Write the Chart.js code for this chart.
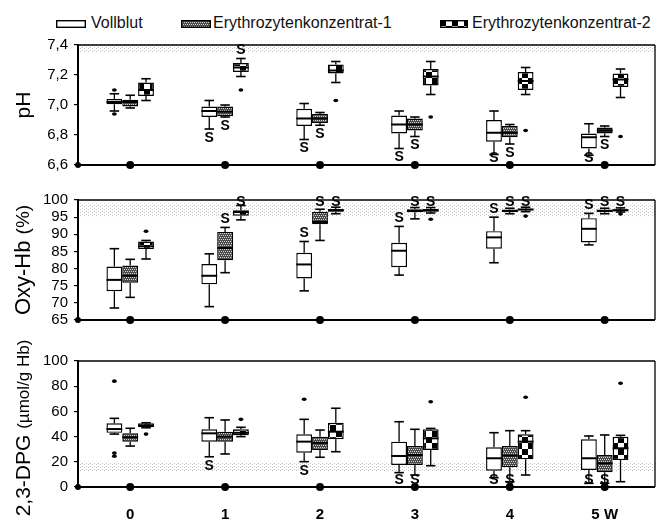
<!DOCTYPE html>
<html><head><meta charset="utf-8">
<script src="https://cdn.jsdelivr.net/npm/chart.js@4.4.0/dist/chart.umd.min.js"></script>
<style>
html,body{margin:0;padding:0;background:#fff;}
body{width:666px;height:523px;position:relative;overflow:hidden;font-family:"Liberation Sans",Arial,sans-serif;}
canvas.panel{position:absolute;left:0;}
.sw{position:absolute;}
.lt{position:absolute;font-size:16px;line-height:18px;color:#111;white-space:nowrap;}
</style></head>
<body>
<canvas class="sw" id="sw0" width="30" height="8" style="left:56px;top:20px"></canvas>
<span class="lt" id="lt0" style="left:91px;top:14px"></span>
<canvas class="sw" id="sw1" width="30" height="8" style="left:181px;top:20px"></canvas>
<span class="lt" id="lt1" style="left:213px;top:14px"></span>
<canvas class="sw" id="sw2" width="28" height="8" style="left:440px;top:20px"></canvas>
<span class="lt" id="lt2" style="left:472px;top:14px"></span>
<canvas class="panel" id="c1" width="666" height="150" style="top:30px"></canvas>
<canvas class="panel" id="c2" width="666" height="150" style="top:185px"></canvas>
<canvas class="panel" id="c3" width="666" height="188" style="top:335px"></canvas>
<script>
// ---------- data ----------
const categories = ['0','1','2','3','4','5 W'];
const seriesNames = ['Vollblut','Erythrozytenkonzentrat-1','Erythrozytenkonzentrat-2'];

// each entry: [min, q1, median, q3, max]
const phVollblut = [[6.96,7.005,7.02,7.04,7.075],[6.84,6.92,6.96,6.99,7.03],[6.77,6.86,6.91,6.975,7.01],[6.71,6.81,6.87,6.93,6.96],[6.67,6.755,6.815,6.90,6.96],[6.665,6.71,6.785,6.81,6.875]];
const phEk1 = [[6.98,6.99,7.02,7.035,7.065],[6.92,6.925,6.955,6.99,7.0],[6.865,6.88,6.91,6.94,6.95],[6.79,6.83,6.87,6.91,6.92],[6.74,6.785,6.815,6.86,6.87],[6.79,6.81,6.83,6.85,6.86]];
const phEk2 = [[7.03,7.06,7.10,7.15,7.175],[7.19,7.22,7.25,7.28,7.31],[7.15,7.21,7.23,7.27,7.29],[7.07,7.13,7.19,7.24,7.29],[7.07,7.10,7.16,7.22,7.25],[7.05,7.12,7.17,7.21,7.24]];
const phVollblutOut = [[0,7.10],[0,6.94]];
const phEk1Out = [];
const phEk2Out = [[1,7.10],[2,7.03],[3,6.92],[4,6.83],[5,6.79]];
const phVollblutSig = [0,-1,-1,-1,-1,-1];
const phEk1Sig = [0,-1,-1,-1,-1,-1];
const phEk2Sig = [0,1,0,0,0,0];
const phTicks = [6.6,6.8,7.0,7.2,7.4];
const phNormal = [7.35,7.45];

const oxyVollblut = [[68.5,73.4,76.7,80.6,85.8],[68.9,75.4,77.9,81.3,84.3],[73.5,77.1,81.2,84.6,87.9],[78.1,80.4,85.2,87.5,92.3],[81.7,85.8,89.1,90.9,95.0],[86.9,87.6,91.6,94.7,96.1]];
const oxyEk1 = [[71.6,75.9,77.9,80.9,82.7],[78.8,82.4,86.0,90.7,92.0],[88.2,92.9,93.6,96.6,97.3],[94.5,96.4,96.8,97.3,97.8],[96.0,96.5,96.8,97.2,97.6],[96.0,96.4,96.8,97.2,97.6]];
const oxyEk2 = [[82.8,85.7,86.5,87.9,88.2],[94.2,95.4,96.5,97.0,98.4],[96.0,96.6,97.0,97.4,97.9],[96.2,96.6,97.0,97.4,97.8],[96.6,97.0,97.2,97.5,97.9],[96.5,96.8,97.0,97.3,97.7]];
const oxyVollblutOut = [];
const oxyEk1Out = [];
const oxyEk2Out = [[0,90.9],[3,94.4],[4,95.3],[5,95.9]];
const oxyVollblutSig = [0,0,1,1,1,1];
const oxyEk1Sig = [0,1,1,1,1,1];
const oxyEk2Sig = [0,1,1,1,1,1];
const oxyTicks = [65,70,75,80,85,90,95,100];
const oxyNormal = [95,99];

const dpgVollblut = [[42,43,46,50.5,54.5],[24,36,42.6,45.8,55],[20.1,27.2,36,41.8,53.7],[11.4,17.5,24.6,36,51.8],[7.4,12.9,22.8,31.5,43.1],[2.9,13.5,22.8,37.9,40.5]];
const dpgEk1 = [[32.5,36,39.5,42.6,46.6],[26.2,36,39.9,43.9,53.2],[23.6,29.4,35,39.9,45.2],[9.5,17.5,25.4,32.5,45.8],[4.2,15.6,24.9,32.5,44.7],[3,11.7,18.8,25.4,41.3]];
const dpgEk2 = [[47,47.4,48.8,50.5,51],[40,41,43,45.8,47.4],[28,37.9,43.9,51,62.5],[16.9,29.4,38.6,45.8,46.5],[9.5,22,36,41.8,44.7],[4.2,21.4,30.7,39.9,41]];
const dpgVollblutOut = [[0,84],[0,27],[0,24.5],[2,69.6]];
const dpgEk1Out = [];
const dpgEk2Out = [[0,42],[1,53.7],[3,67.7],[4,71.2],[5,82.3]];
const dpgVollblutSig = [0,-1,-1,-1,-1,-1];
const dpgEk1Sig = [0,0,0,-1,-1,-1];
const dpgEk2Sig = [0,0,0,0,0,0];
const dpgTicks = [0,20,40,60,80,100];
const dpgNormal = [12,20];

// ---------- patterns ----------
function patternCanvas(kind){
  const c=document.createElement('canvas');
  const x=c.getContext('2d');
  if(kind==='ek1'){
    c.width=4;c.height=4;
    x.fillStyle='#4a4a4a';x.fillRect(0,0,4,4);
    x.fillStyle='#d8d8d8';x.fillRect(0,0,1,1);x.fillRect(2,0,1,1);x.fillRect(1,2,1,1);x.fillRect(3,2,1,1);
  } else if(kind==='ek2'){
    c.width=12;c.height=12;
    x.fillStyle='#fff';x.fillRect(0,0,12,12);
    x.fillStyle='#000';x.fillRect(0,0,6,6);x.fillRect(6,6,6,6);
  } else if(kind==='band'){
    c.width=4;c.height=3;
    x.fillStyle='rgba(150,150,150,0.55)';x.fillRect(0,0,1,1);x.fillRect(2,2,1,1);
  }
  return c;
}
function fills(ctx){
  return ['#ffffff', ctx.createPattern(patternCanvas('ek1'),'repeat'), ctx.createPattern(patternCanvas('ek2'),'repeat')];
}

// legend
for(let i=0;i<3;i++){
  document.getElementById('lt'+i).textContent = seriesNames[i];
  const c=document.getElementById('sw'+i), x=c.getContext('2d');
  x.fillStyle=fills(x)[i]; x.fillRect(0,0,c.width,c.height);
  x.strokeStyle='#000'; x.lineWidth=1.4; x.strokeRect(0.7,0.7,c.width-1.4,c.height-1.4);
}

// ---------- plugin ----------
const boxPlugin = {
  id:'boxes',
  beforeDatasetsDraw(chart,args,o){
    const {ctx, chartArea:a, scales:{y}} = chart;
    const t=Math.max(a.top,y.getPixelForValue(o.band[1])), b=Math.min(a.bottom,y.getPixelForValue(o.band[0]));
    ctx.save();
    ctx.fillStyle=ctx.createPattern(patternCanvas('band'),'repeat');
    ctx.fillRect(a.left,t,a.right-a.left,b-t);
    ctx.restore();
  },
  afterDatasetsDraw(chart,args,o){
    const {ctx, chartArea:a, scales:{x,y}} = chart;
    ctx.save();
    ctx.strokeStyle='#000'; ctx.fillStyle='#000';
    const ln=(x1,y1,x2,y2,w)=>{ctx.lineWidth=w;ctx.beginPath();ctx.moveTo(x1,y1);ctx.lineTo(x2,y2);ctx.stroke();};
    o.stats.forEach((st,di)=>{
      const meta=chart.getDatasetMeta(di);
      st.forEach((s,i)=>{
        const el=meta.data[i], cx=el.x, w=el.width, cw=w*0.6;
        const p=s.map(v=>y.getPixelForValue(v));
        ln(cx,p[3],cx,p[4],1.3); ln(cx,p[1],cx,p[0],1.3);
        ln(cx-cw/2,p[4],cx+cw/2,p[4],1.6); ln(cx-cw/2,p[0],cx+cw/2,p[0],1.6);
        ln(cx-w/2,p[2],cx+w/2,p[2],2);
      });
      o.out[di].forEach(([ci,v])=>{
        const el=meta.data[ci];
        ctx.beginPath(); ctx.ellipse(el.x, y.getPixelForValue(v), 2.4, 1.8, 0, 0, Math.PI*2); ctx.fill();
      });
      ctx.font='bold 14px "Liberation Sans", Arial, sans-serif';
      ctx.textAlign='center'; ctx.textBaseline='middle';
      o.sig[di].forEach((sg,ci)=>{
        if(!sg) return;
        const el=meta.data[ci], s=st[ci];
        let py = sg>0 ? y.getPixelForValue(s[4])-8 : y.getPixelForValue(s[0])+9;
        py=Math.min(Math.max(py,a.top+2),a.bottom-7);
        ctx.fillText('S', el.x, py);
      });
    });
    // frame
    ln(a.left,a.top,a.right,a.top,1.3);
    ln(a.right,a.top,a.right,a.bottom,1.3);
    ln(a.left,a.top-1,a.left,a.bottom+1,2);
    ln(a.left-3,a.bottom,a.right,a.bottom,2);
    // axis dots
    ctx.beginPath(); ctx.arc(a.left,a.bottom,3,0,Math.PI*2); ctx.fill();
    categories.forEach((c,i)=>{
      ctx.beginPath(); ctx.arc(x.getPixelForValue(i),a.bottom,4,0,Math.PI*2); ctx.fill();
    });
    // y title
    ctx.translate(o.titleX,(a.top+a.bottom)/2+o.titleShift);
    ctx.rotate(-Math.PI/2);
    ctx.textBaseline='middle'; ctx.textAlign='left';
    let total=0;
    o.title.forEach(([txt,sz])=>{ctx.font=sz+'px "Liberation Sans", Arial, sans-serif'; total+=ctx.measureText(txt).width;});
    let cx=-total/2;
    o.title.forEach(([txt,sz])=>{ctx.font=sz+'px "Liberation Sans", Arial, sans-serif'; ctx.fillText(txt,cx,0); cx+=ctx.measureText(txt).width;});
    ctx.restore();
  }
};

function makeChart(id, stats, outs, sigs, ticks, fmt, band, title, showX, padTop, padBottom, titleShift){
  const canvas=document.getElementById(id);
  const ctx=canvas.getContext('2d');
  const bg=fills(ctx);
  return new Chart(ctx,{
    type:'bar',
    data:{datasets: stats.map((st,di)=>({
      label:seriesNames[di],
      data: st.map((s,i)=>({x:i,y:[s[1],s[3]]})),
      backgroundColor:bg[di], borderColor:'#000', borderWidth:1.4, borderSkipped:false,
      categoryPercentage:0.5, barPercentage:1
    }))},
    options:{
      responsive:false, animation:false, events:[],
      layout:{padding:{left:0,right:11,top:padTop,bottom:padBottom}},
      plugins:{legend:{display:false},tooltip:{enabled:false},
        boxes:{stats, out:outs, sig:sigs, band, title, titleX:24, titleShift}},
      scales:{
        x:{type:'linear',min:-0.55,max:5.53,display:showX,offset:false,
          afterBuildTicks:s=>{s.ticks=categories.map((c,i)=>({value:i}));},
          afterFit:s=>{if(showX) s.height=36;},
          grid:{display:false,drawTicks:false},border:{display:false},
          ticks:{autoSkip:false,maxRotation:0,padding:19,color:'#000',font:{size:15,weight:'bold',family:'"Liberation Sans", Arial, sans-serif'},
            callback:v=>categories[v]}},
        y:{min:ticks[0],max:ticks[ticks.length-1],
          afterBuildTicks:s=>{s.ticks=ticks.map(v=>({value:v}));},
          afterFit:s=>{s.width=78;},
          grid:{display:true,drawOnChartArea:false,drawTicks:true,tickLength:4,color:'#000',lineWidth:1.2},
          border:{display:false},
          ticks:{autoSkip:false,padding:6,color:'#000',font:{size:15,family:'"Liberation Sans", Arial, sans-serif'},callback:fmt}}
      }
    },
    plugins:[boxPlugin]
  });
}

makeChart('c1',[phVollblut,phEk1,phEk2],[phVollblutOut,phEk1Out,phEk2Out],[phVollblutSig,phEk1Sig,phEk2Sig],
  phTicks,v=>v.toFixed(1).replace('.',','),phNormal,[['pH',21]],false,15,13,0);
makeChart('c2',[oxyVollblut,oxyEk1,oxyEk2],[oxyVollblutOut,oxyEk1Out,oxyEk2Out],[oxyVollblutSig,oxyEk1Sig,oxyEk2Sig],
  oxyTicks,v=>String(v),oxyNormal,[['Oxy-Hb ',22],['(%)',19]],false,13,7,0);
makeChart('c3',[dpgVollblut,dpgEk1,dpgEk2],[dpgVollblutOut,dpgEk1Out,dpgEk2Out],[dpgVollblutSig,dpgEk1Sig,dpgEk2Sig],
  dpgTicks,v=>String(v),dpgNormal,[['2,3-DPG ',21],['(µmol/g Hb)',17]],true,26,0,4);
</script>
</body></html>
